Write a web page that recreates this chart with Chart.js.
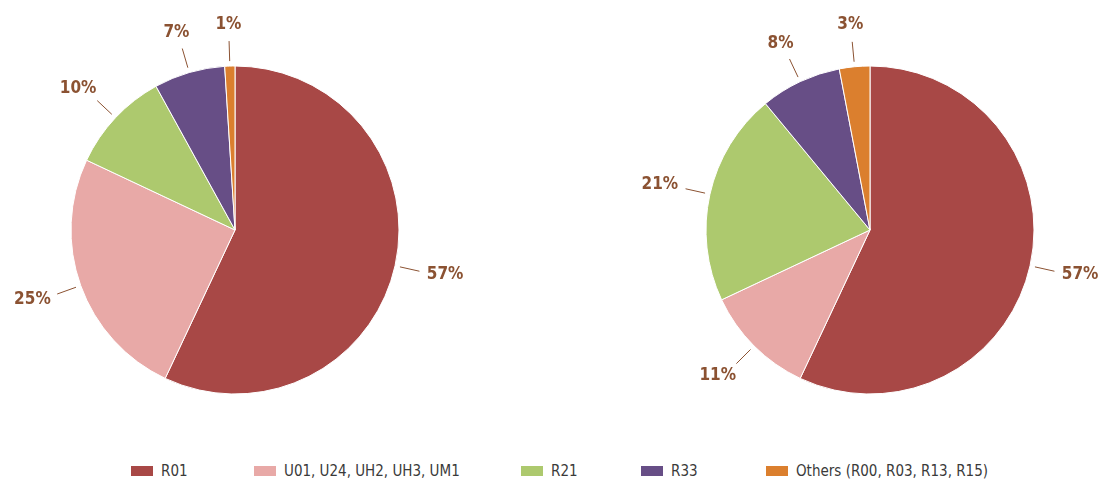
<!DOCTYPE html>
<html>
<head>
<meta charset="utf-8">
<script src="https://cdn.jsdelivr.net/npm/chart.js@4"></script>
<style>
  html, body { margin: 0; padding: 0; background: #fff; }
  body { width: 1108px; height: 484px; position: relative; overflow: hidden; }
  .pie { position: absolute; top: 0; width: 470px; height: 460px; }
  #pieLeft { left: 0; }
  #pieRight { left: 635px; }
  #legend { position: absolute; top: 462px; left: 0; width: 1108px; height: 20px;
    font-family: "DejaVu Sans Condensed", "Liberation Sans Narrow", sans-serif; font-size: 15px; color: #3a3a3a; }
  #legend .item { position: absolute; top: 0; display: flex; align-items: center; white-space: nowrap; }
  #legend .box { width: 22px; height: 10px; margin-right: 8px; }
</style>
</head>
<body>
<div class="pie" id="pieLeft"><canvas id="leftChart"></canvas></div>
<div class="pie" id="pieRight"><canvas id="rightChart"></canvas></div>
<div id="legend"></div>
<script>
const categories = ['R01', 'U01, U24, UH2, UH3, UM1', 'R21', 'R33', 'Others (R00, R03, R13, R15)'];
const leftValues = [57, 25, 10, 7, 1];
const rightValues = [57, 11, 21, 8, 3];
const colors = ['#a84846', '#e8a9a7', '#adc96e', '#674e86', '#db7f2e'];
const legendLeft = [131, 254, 521, 641, 766];
const labelColor = '#8b5232';

// leader lines + percent labels
const leaderLabels = {
  id: 'leaderLabels',
  afterDatasetsDraw(chart) {
    const ctx = chart.ctx;
    const meta = chart.getDatasetMeta(0);
    const data = chart.data.datasets[0].data;
    ctx.save();
    ctx.font = 'bold 17px "DejaVu Sans Condensed", sans-serif';
    ctx.fillStyle = labelColor;
    ctx.strokeStyle = labelColor;
    ctx.lineWidth = 1;
    ctx.textAlign = 'center';
    ctx.textBaseline = 'middle';
    meta.data.forEach((arc, i) => {
      const p = arc.getProps(['x', 'y', 'startAngle', 'endAngle', 'outerRadius'], true);
      const a = (p.startAngle + p.endAngle) / 2;
      const c = Math.cos(a), s = Math.sin(a);
      const r1 = p.outerRadius + 5, r2 = p.outerRadius + 25;
      const x2 = p.x + c * r2, y2 = p.y + s * r2;
      ctx.beginPath();
      ctx.moveTo(p.x + c * r1, p.y + s * r1);
      ctx.lineTo(x2, y2);
      ctx.stroke();
      const txt = data[i] + '%';
      const w = ctx.measureText(txt).width;
      ctx.fillText(txt, x2 + c * (w / 2 + 8), y2 + s * 17);
    });
    ctx.restore();
  }
};

function makePie(id, values) {
  new Chart(document.getElementById(id), {
    type: 'pie',
    data: {
      labels: categories,
      datasets: [{
        data: values,
        backgroundColor: colors,
        borderColor: '#ffffff',
        borderWidth: 1,
        radius: 164,
      }],
    },
    options: {
      responsive: true,
      maintainAspectRatio: false,
      animation: false,
      plugins: { legend: { display: false }, tooltip: { enabled: false } },
    },
    plugins: [leaderLabels],
  });
}

makePie('leftChart', leftValues);
makePie('rightChart', rightValues);

const legend = document.getElementById('legend');
categories.forEach((name, i) => {
  const item = document.createElement('div');
  item.className = 'item';
  item.style.left = legendLeft[i] + 'px';
  item.innerHTML = '<span class="box" style="background:' + colors[i] + '"></span><span>' + name + '</span>';
  legend.appendChild(item);
});
</script>
</body>
</html>
